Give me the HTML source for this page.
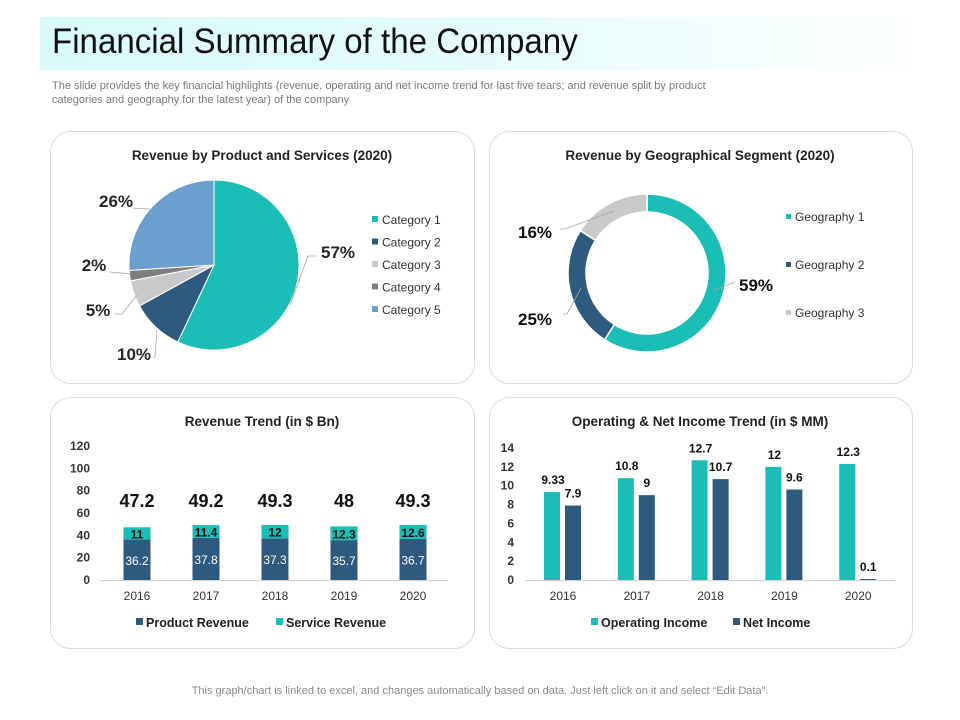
<!DOCTYPE html>
<html><head><meta charset="utf-8"><style>
body{margin:0;width:960px;height:720px;background:#fff;font-family:"Liberation Sans",Arial,sans-serif;overflow:hidden;position:relative}
.banner{position:absolute;left:40px;top:17px;width:895px;height:53px;background:linear-gradient(90deg,#d8fafb 0%,#e6fcfc 50%,#ffffff 100%)}
.title{position:absolute;left:52px;top:22px;font-family:"Liberation Sans Narrow","Liberation Sans",sans-serif;font-size:35px;color:#111;transform:scaleX(0.945);transform-origin:0 0;white-space:nowrap}
.sub{position:absolute;left:52px;top:79px;font-size:11px;line-height:14px;color:#7a7a7a;letter-spacing:0px;white-space:nowrap}
.foot{position:absolute;left:0;width:960px;top:685px;text-align:center;font-size:11px;color:#8a8a8a}
svg{position:absolute;left:0;top:0}
</style></head><body>
<div class="banner"></div>
<div class="title">Financial Summary of the Company</div>
<div class="sub">The slide provides the key financial highlights (revenue, operating and net income trend for last five tears; and revenue split by product<br>categories and geography for the latest year) of the company</div>
<div class="foot">This graph/chart is linked to excel, and changes automatically based on data. Just left click on it and select “Edit Data”.</div>
<svg id="s" width="960" height="720"></svg>
<script>
const pieCats=["Category 1","Category 2","Category 3","Category 4","Category 5"];
const pieVals=[57,10,5,2,26];
const donutCats=["Geography 1","Geography 2","Geography 3"];
const donutVals=[59,25,16];
const years=["2016","2017","2018","2019","2020"];
const productRev=[36.2,37.8,37.3,35.7,36.7];
const serviceRev=[11,11.4,12,12.3,12.6];
const revTotals=[47.2,49.2,49.3,48,49.3];
const revTicks=[0,20,40,60,80,100,120];
const opIncome=[9.33,10.8,12.7,12,12.3];
const netIncome=[7.9,9,10.7,9.6,0.1];
const incTicks=[0,2,4,6,8,10,12,14];

const TEAL="#1bbdb7",NAVY="#2e5a80",LG="#c9c9c9",G="#7f7f7f",LB="#6a9fcf";
const S=document.getElementById('s');const NS="http://www.w3.org/2000/svg";
function el(t,a,txt){const e=document.createElementNS(NS,t);for(const k in a)e.setAttribute(k,a[k]);if(txt!==undefined)e.textContent=txt;S.appendChild(e);return e;}
function txt(x,y,s,o){return el('text',Object.assign({x:x,y:y,'font-family':'Liberation Sans, Arial, sans-serif'},o||{}),s);}

[[50,131,424,252,"Revenue by Product and Services (2020)",262],[489,131,423,252,"Revenue by Geographical Segment (2020)",700],
 [50,397,424,251,"Revenue Trend (in $ Bn)",262],[489,397,423,251,"Operating & Net Income Trend (in $ MM)",700]].forEach((p,i)=>{
 const r=el('rect',{x:p[0]+.5,y:p[1]+.5,width:p[2],height:p[3],rx:20,fill:'#fff',stroke:'#dcdcdc','stroke-width':1});
 
 
 const t=txt(p[5],p[1]+29,p[4],{'font-size':13.5,'font-weight':'bold','text-anchor':'middle',fill:'#222'});
 
 
});

function arc(cx,cy,r0,r1,a0,a1){const p=(r,a)=>[cx+r*Math.sin(a),cy-r*Math.cos(a)];const lg=(a1-a0)>Math.PI?1:0;
 const A=p(r1,a0),B=p(r1,a1);
 if(r0===0){return `M${cx},${cy}L${A}A${r1},${r1} 0 ${lg} 1 ${B}Z`;}
 const C=p(r0,a1),D=p(r0,a0);return `M${A}A${r1},${r1} 0 ${lg} 1 ${B}L${C}A${r0},${r0} 0 ${lg} 0 ${D}Z`;}

// pie
(function(){const cx=214,cy=265,R=85,cols=[TEAL,NAVY,LG,G,LB];const tot=pieVals.reduce((a,b)=>a+b,0);let a=0;
 const labPos=[[338,258],[134,360],[98,316],[94,271],[116,207]];
 const leaders=["M290,305L308,256L316,256","M157,330L155,357L153,357","M137,295L122,314L115,314","M131,274L110,272","M150,209L133,208"];
 pieVals.forEach((v,i)=>{const a1=a+v/tot*2*Math.PI;
  const p=el('path',{d:arc(cx,cy,0,R,a,a1),fill:cols[i],stroke:'#fff','stroke-width':1});
  
  
  const ln=el('path',{d:leaders[i],fill:'none',stroke:'#a6a6a6','stroke-width':0.8});
  
  
  const t=txt(labPos[i][0],labPos[i][1],pieVals[i]+'%',{'font-size':17,'font-weight':'bold','text-anchor':'middle',fill:'#262626'});
  
  
  a=a1;});
 pieCats.forEach((c,i)=>{const y=220+i*22.5;
  const r=el('rect',{x:372,y:y-4,width:6,height:6,fill:cols[i]});
  
  
  const t=txt(382,y+4,c,{'font-size':12,fill:'#333'});
  
  });
})();

// donut
(function(){const cx=647,cy=273,R=79,r=61,cols=[TEAL,NAVY,LG];const tot=donutVals.reduce((a,b)=>a+b,0);let a=0;
 const labPos=[[756,291],[535,325],[535,238]];
 const leaders=["M714,290L735,282","M581,288L567,314L563,314","M614,211L565,229L560,229"];
 donutVals.forEach((v,i)=>{const a1=a+v/tot*2*Math.PI;
  const p=el('path',{d:arc(cx,cy,r,R,a,a1),fill:cols[i],stroke:'#fff','stroke-width':1.5});
  
  
  const ln=el('path',{d:leaders[i],fill:'none',stroke:'#a6a6a6','stroke-width':0.8});
  
  
  const t=txt(labPos[i][0],labPos[i][1],donutVals[i]+'%',{'font-size':17,'font-weight':'bold','text-anchor':'middle',fill:'#111'});
  
  
  a=a1;});
 donutCats.forEach((c,i)=>{const y=217+i*48;
  const rr=el('rect',{x:786,y:y-3,width:5,height:5,fill:cols[i]});
  
  
  const t=txt(795,y+4,c,{'font-size':12,fill:'#333'});
  
  });
})();

// revenue stacked
(function(){const y0=580,ppu=134/120,x0=137,dx=69,bw=27;const Y=v=>y0-v*ppu;
 revTicks.forEach(t=>{const e=txt(90,Y(t)+4,t,{'font-size':12,'font-weight':'bold','text-anchor':'end',fill:'#333'});
  
  });
 const ax=el('line',{x1:100,x2:448,y1:y0+.5,y2:y0+.5,stroke:'#d0d0d0'});
 
 
 years.forEach((yr,i)=>{const cx=x0+i*dx;
  const b1=el('rect',{x:cx-bw/2,y:Y(productRev[i]),width:bw,height:productRev[i]*ppu,fill:NAVY});
  
  
  const b2=el('rect',{x:cx-bw/2,y:Y(productRev[i]+serviceRev[i]),width:bw,height:serviceRev[i]*ppu,fill:TEAL});
  
  
  const l1=txt(cx,Y(productRev[i]/2)+5,productRev[i],{'font-size':12,'text-anchor':'middle',fill:'#fff'});
  
  
  const l2=txt(cx,Y(productRev[i]+serviceRev[i]/2)+5,serviceRev[i],{'font-size':12,'font-weight':'bold','text-anchor':'middle',fill:'#111'});
  
  
  const l3=txt(cx,507,revTotals[i],{'font-size':18,'font-weight':'bold','text-anchor':'middle',fill:'#111'});
  
  
  const xl=txt(cx,600,yr,{'font-size':12,'text-anchor':'middle',fill:'#333'});
  
  });
 [[NAVY,"Product Revenue",136],[TEAL,"Service Revenue",276]].forEach((L,i)=>{
  const r=el('rect',{x:L[2],y:618,width:7,height:7,fill:L[0]});
  
  
  const t=txt(L[2]+10,627,L[1],{'font-size':12.5,'font-weight':'bold',fill:'#222'});
  
  });
})();

// income grouped
(function(){const y0=580,ppu=132/14,x0=563,dx=73.8,bw=16;const Y=v=>y0-v*ppu;
 incTicks.forEach(t=>{const e=txt(514,Y(t)+4,t,{'font-size':12,'font-weight':'bold','text-anchor':'end',fill:'#333'});
  
  });
 const ax=el('line',{x1:525,x2:895,y1:y0+.5,y2:y0+.5,stroke:'#d0d0d0'});
 
 
 years.forEach((yr,i)=>{const cx=x0+i*dx;
  const b1=el('rect',{x:cx-19,y:Y(opIncome[i]),width:bw,height:opIncome[i]*ppu,fill:TEAL});
  
  
  const b2=el('rect',{x:cx+2,y:Y(netIncome[i]),width:bw,height:netIncome[i]*ppu,fill:NAVY});
  
  
  const l1=txt(cx-10,Y(opIncome[i])-8,opIncome[i],{'font-size':12,'font-weight':'bold','text-anchor':'middle',fill:'#111'});
  
  
  const l2=txt(cx+10,Y(netIncome[i])-8,netIncome[i],{'font-size':12,'font-weight':'bold','text-anchor':'middle',fill:'#111'});
  
  
  const xl=txt(cx,600,yr,{'font-size':12,'text-anchor':'middle',fill:'#333'});
  
  });
 [[TEAL,"Operating Income",591],[NAVY,"Net Income",733]].forEach((L,i)=>{
  const r=el('rect',{x:L[2],y:618,width:7,height:7,fill:L[0]});
  
  
  const t=txt(L[2]+10,627,L[1],{'font-size':12.5,'font-weight':'bold',fill:'#222'});
  
  });
})();
</script>
</body></html>
